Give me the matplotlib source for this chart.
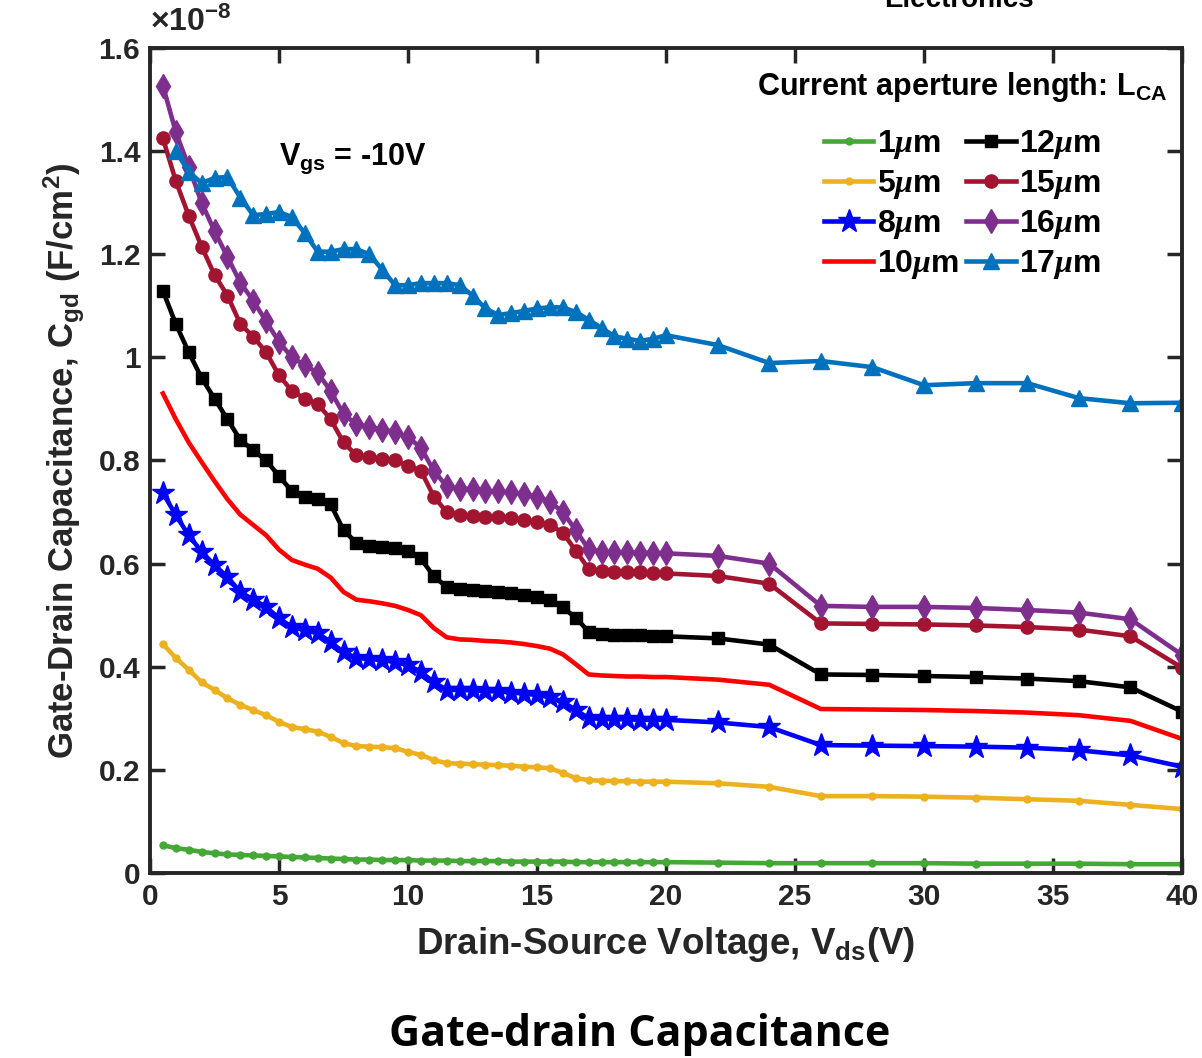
import numpy as np
import matplotlib
matplotlib.use("Agg")
import matplotlib.pyplot as plt

plt.rcParams['font.family'] = ['Liberation Sans', 'DejaVu Sans']
plt.rcParams['font.weight'] = 'bold'
plt.rcParams['axes.labelweight'] = 'bold'
plt.rcParams['mathtext.fontset'] = 'custom'
plt.rcParams['mathtext.rm'] = 'Liberation Sans:bold'
plt.rcParams['mathtext.bf'] = 'Liberation Sans:bold'
plt.rcParams['mathtext.it'] = 'Liberation Serif:italic'
plt.rcParams['mathtext.default'] = 'bf'

# drain-source voltage (V)
vds = [0.5, 1, 1.5, 2, 2.5, 3, 3.5, 4, 4.5, 5, 5.5, 6, 6.5, 7, 7.5, 8, 8.5, 9, 9.5, 10,
       10.5, 11, 11.5, 12, 12.5, 13, 13.5, 14, 14.5, 15, 15.5, 16, 16.5, 17, 17.5, 18, 18.5, 19, 19.5, 20,
       22, 24, 26, 28, 30, 32, 34, 36, 38, 40]

# gate-drain capacitance, units of 1e-8 F/cm^2
c_1um = [0.054, 0.048, 0.045, 0.041, 0.038, 0.036, 0.035, 0.034, 0.033, 0.032,
         0.031, 0.030, 0.029, 0.028, 0.027, 0.026, 0.026, 0.025, 0.025, 0.025,
         0.024, 0.024, 0.024, 0.023, 0.023, 0.023, 0.023, 0.022, 0.022, 0.022,
         0.022, 0.022, 0.021, 0.021, 0.021, 0.021, 0.021, 0.021, 0.021, 0.021,
         0.020, 0.019, 0.019, 0.019, 0.019, 0.018, 0.018, 0.018, 0.017, 0.017]
c_5um = [0.444, 0.417, 0.394, 0.370, 0.355, 0.339, 0.326, 0.316, 0.306, 0.293,
         0.283, 0.279, 0.274, 0.264, 0.252, 0.246, 0.245, 0.244, 0.242, 0.235,
         0.229, 0.219, 0.213, 0.212, 0.211, 0.210, 0.209, 0.208, 0.206, 0.205,
         0.203, 0.194, 0.184, 0.180, 0.179, 0.178, 0.178, 0.177, 0.177, 0.177,
         0.174, 0.167, 0.149, 0.149, 0.148, 0.146, 0.143, 0.140, 0.132, 0.124]
c_8um = [0.737, 0.694, 0.655, 0.623, 0.597, 0.574, 0.545, 0.530, 0.516, 0.494,
         0.477, 0.471, 0.465, 0.448, 0.428, 0.417, 0.415, 0.413, 0.409, 0.403,
         0.390, 0.370, 0.355, 0.355, 0.354, 0.353, 0.352, 0.350, 0.348, 0.345,
         0.341, 0.332, 0.316, 0.300, 0.299, 0.298, 0.298, 0.297, 0.297, 0.297,
         0.292, 0.283, 0.248, 0.247, 0.246, 0.245, 0.243, 0.238, 0.228, 0.206]
c_10um = [0.930, 0.880, 0.835, 0.797, 0.760, 0.725, 0.695, 0.675, 0.655, 0.627,
          0.607, 0.598, 0.590, 0.573, 0.545, 0.530, 0.527, 0.523, 0.518, 0.510,
          0.500, 0.475, 0.457, 0.453, 0.452, 0.450, 0.449, 0.447, 0.444, 0.440,
          0.435, 0.424, 0.405, 0.385, 0.383, 0.382, 0.381, 0.381, 0.380, 0.380,
          0.375, 0.365, 0.318, 0.317, 0.316, 0.314, 0.311, 0.306, 0.295, 0.260]
c_12um = [1.129, 1.065, 1.010, 0.960, 0.920, 0.880, 0.840, 0.820, 0.800, 0.770,
          0.740, 0.730, 0.725, 0.715, 0.665, 0.640, 0.635, 0.633, 0.630, 0.625,
          0.610, 0.575, 0.555, 0.550, 0.548, 0.546, 0.545, 0.543, 0.540, 0.535,
          0.530, 0.515, 0.495, 0.468, 0.463, 0.462, 0.461, 0.461, 0.460, 0.459,
          0.455, 0.443, 0.385, 0.384, 0.382, 0.380, 0.377, 0.372, 0.360, 0.313]
c_15um = [1.425, 1.342, 1.275, 1.215, 1.160, 1.120, 1.065, 1.040, 1.010, 0.965,
          0.935, 0.920, 0.910, 0.880, 0.835, 0.810, 0.807, 0.803, 0.800, 0.790,
          0.780, 0.730, 0.700, 0.695, 0.693, 0.690, 0.690, 0.688, 0.685, 0.680,
          0.675, 0.660, 0.625, 0.590, 0.585, 0.584, 0.583, 0.583, 0.582, 0.581,
          0.576, 0.561, 0.484, 0.483, 0.482, 0.480, 0.477, 0.472, 0.459, 0.398]
c_16um = [1.527, 1.437, 1.370, 1.300, 1.245, 1.195, 1.145, 1.110, 1.070, 1.030,
          1.000, 0.985, 0.970, 0.935, 0.890, 0.870, 0.865, 0.860, 0.855, 0.845,
          0.825, 0.780, 0.750, 0.745, 0.745, 0.740, 0.740, 0.738, 0.735, 0.730,
          0.720, 0.700, 0.665, 0.628, 0.623, 0.622, 0.622, 0.621, 0.621, 0.620,
          0.615, 0.600, 0.518, 0.516, 0.516, 0.514, 0.510, 0.505, 0.492, 0.423]
c_17um = [np.nan, 1.400, 1.360, 1.338, 1.348, 1.350, 1.310, 1.276, 1.278, 1.282,
          1.272, 1.241, 1.205, 1.205, 1.210, 1.210, 1.200, 1.170, 1.140, 1.140,
          1.144, 1.144, 1.144, 1.140, 1.120, 1.095, 1.082, 1.086, 1.090, 1.095,
          1.097, 1.097, 1.088, 1.073, 1.057, 1.041, 1.036, 1.032, 1.036, 1.043,
          1.024, 0.989, 0.993, 0.981, 0.946, 0.950, 0.950, 0.921, 0.911, 0.912]

labels = ['1', '5', '8', '10', '12', '15', '16', '17']
series = [c_1um, c_5um, c_8um, c_10um, c_12um, c_15um, c_16um, c_17um]
colors = ['#45A836', '#EDB120', '#0000FF', '#FF0000', '#000000', '#A2142F', '#7E2F8E', '#0072BD']
markers = ['.', '.', '*', None, 's', 'o', 'd', '^']
msizes = [10, 10, 17, 0, 8.5, 9.5, 12, 11.5]

fig = plt.figure(figsize=(12.02, 10.58), dpi=100)
ax = fig.add_axes([0.1248, 0.1749, 0.8586, 0.7797])

for lab, y, c, m, ms in zip(labels, series, colors, markers, msizes):
    ax.plot(vds, y, color=c, marker=m, markersize=ms, linewidth=3.3,
            label=lab + r'$\mathit{\mu}$m')

ax.set_xlim(0, 40)
ax.set_ylim(0, 1.6)
ax.set_xticks(np.arange(0, 41, 5))
ax.set_yticks(np.arange(0, 1.61, 0.2))
ax.set_yticklabels(['0', '0.2', '0.4', '0.6', '0.8', '1', '1.2', '1.4', '1.6'])
ax.tick_params(direction='in', length=11, width=2.5, labelsize=21.5, top=True, right=True,
               colors='#262626', labelcolor='#262626', pad=7)
for sp in ax.spines.values():
    sp.set_linewidth(2.8)
    sp.set_color('#262626')

ax.set_xlabel(r'Drain-Source Voltage, $\mathbf{V_{ds}}$(V)', fontsize=26.5, fontweight='bold',
              color='#262626', labelpad=10)
ax.set_ylabel(r'Gate-Drain Capacitance, $\mathbf{C_{gd}}$ (F/cm$^\mathbf{2}$)', fontsize=25,
              fontweight='bold', color='#262626', labelpad=8)
ax.text(0.0, 1.012, r'$\times$10$^{\mathbf{-8}}$', transform=ax.transAxes, fontsize=23,
        color='#262626', ha='left', va='bottom')

ax.text(5.0, 1.385, r'$\mathbf{V_{gs}}$ = -10V', fontsize=22, ha='left', va='center')

leg = ax.legend(ncol=2, frameon=False, loc='upper right', bbox_to_anchor=(0.986, 0.973),
                borderaxespad=0, borderpad=0, fontsize=23, handlelength=1.55,
                handletextpad=0.1, columnspacing=0.25, labelspacing=0.22,
                title=r'Current aperture length: $\mathbf{L_{CA}}$', title_fontsize=22)
leg._legend_box.sep = 17

fig.text(0.532, 0.002, 'Gate-drain Capacitance', fontsize=31, fontweight='bold',
         family=['Open Sans', 'DejaVu Sans'], ha='center', va='bottom')
fig.text(0.86, 1.0, 'Electronics', fontsize=20, ha='right', va='center')

fig.savefig('out.png', dpi=100)
